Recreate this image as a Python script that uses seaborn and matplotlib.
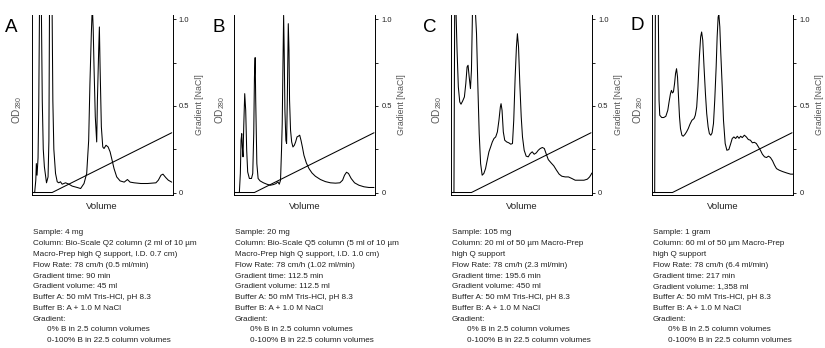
import matplotlib
matplotlib.use("Agg")
import matplotlib.pyplot as plt
import seaborn as sns
import pandas as pd

# ---------------- data (normalized volume 0..1, signal in right-axis units) ----------------
a_vol = [0, 0.021, 0.029, 0.033, 0.038, 0.045, 0.050, 0.055, 0.069, 0.075, 0.082, 0.090, 0.105,
         0.116, 0.122, 0.126, 0.145, 0.150, 0.157, 0.169, 0.181, 0.192, 0.204, 0.216, 0.240,
         0.264, 0.287, 0.323, 0.347, 0.371, 0.390, 0.404, 0.413, 0.423, 0.430, 0.436, 0.442,
         0.451, 0.461, 0.466, 0.475, 0.480, 0.485, 0.494, 0.504, 0.513, 0.527, 0.542, 0.556,
         0.570, 0.584, 0.603, 0.627, 0.656, 0.679, 0.698, 0.727, 0.774, 0.822, 0.881, 0.898,
         0.917, 0.931, 0.950, 0.969, 0.993]
a_od = [0, 0, 0.071, 0.167, 0.100, 0.200, 0.500, 1.03, 1.03, 0.53, 0.250, 0.148, 0.056,
        0.090, 0.300, 1.03, 1.03, 0.53, 0.250, 0.110, 0.062, 0.056, 0.062, 0.048, 0.056,
        0.048, 0.037, 0.029, 0.023, 0.052, 0.110, 0.300, 0.630, 0.920, 1.08, 0.950, 0.725,
        0.437, 0.292, 0.533, 0.821, 0.956, 0.725, 0.379, 0.263, 0.254, 0.273, 0.263, 0.235,
        0.187, 0.138, 0.090, 0.067, 0.060, 0.075, 0.060, 0.056, 0.052, 0.052, 0.056, 0.071,
        0.100, 0.106, 0.087, 0.071, 0.060]

b_vol = [0, 0.038, 0.045, 0.050, 0.055, 0.059, 0.064, 0.069, 0.076, 0.083, 0.090, 0.097, 0.109,
         0.124, 0.133, 0.140, 0.145, 0.150, 0.154, 0.162, 0.171, 0.185, 0.209, 0.233, 0.257,
         0.280, 0.299, 0.311, 0.321, 0.330, 0.337, 0.342, 0.347, 0.352, 0.356, 0.361, 0.368,
         0.373, 0.378, 0.385, 0.390, 0.394, 0.401, 0.409, 0.418, 0.428, 0.437, 0.447, 0.456,
         0.466, 0.475, 0.485, 0.496, 0.513, 0.532, 0.553, 0.577, 0.613, 0.648, 0.684, 0.720,
         0.751, 0.770, 0.784, 0.798, 0.812, 0.831, 0.855, 0.886, 0.922, 0.957, 0.993]
b_od = [0, 0, 0.110, 0.302, 0.340, 0.263, 0.206, 0.379, 0.571, 0.475, 0.244, 0.119, 0.081,
        0.081, 0.110, 0.340, 0.667, 0.779, 0.533, 0.167, 0.081, 0.067, 0.056, 0.048, 0.042,
        0.046, 0.052, 0.062, 0.048, 0.071, 0.244, 0.398, 0.725, 1.023, 0.821, 0.475, 0.302,
        0.283, 0.533, 0.975, 0.821, 0.533, 0.360, 0.292, 0.263, 0.273, 0.292, 0.321, 0.325,
        0.331, 0.302, 0.263, 0.215, 0.171, 0.138, 0.113, 0.094, 0.075, 0.063, 0.056, 0.054,
        0.056, 0.071, 0.100, 0.117, 0.110, 0.081, 0.056, 0.042, 0.033, 0.029, 0.029]

c_vol = [0, 0.021, 0.026, 0.036, 0.043, 0.052, 0.062, 0.071, 0.083, 0.095, 0.105, 0.114, 0.121,
         0.129, 0.138, 0.145, 0.152, 0.174, 0.181, 0.190, 0.200, 0.210, 0.221, 0.233, 0.245,
         0.257, 0.269, 0.281, 0.293, 0.305, 0.317, 0.329, 0.340, 0.350, 0.355, 0.362, 0.371,
         0.381, 0.395, 0.410, 0.424, 0.436, 0.445, 0.455, 0.464, 0.471, 0.479, 0.488, 0.498,
         0.507, 0.519, 0.533, 0.548, 0.562, 0.576, 0.590, 0.605, 0.619, 0.633, 0.648, 0.662,
         0.676, 0.690, 0.710, 0.729, 0.748, 0.767, 0.786, 0.810, 0.833, 0.857, 0.881, 0.912,
         0.943, 0.967, 0.983, 1.0]
c_od = [0, 0, 1.03, 1.03, 0.821, 0.610, 0.523, 0.510, 0.529, 0.552, 0.629, 0.725, 0.735,
        0.667, 0.600, 0.706, 1.03, 1.03, 0.917, 0.629, 0.340, 0.167, 0.100, 0.110, 0.138,
        0.187, 0.235, 0.263, 0.292, 0.312, 0.321, 0.350, 0.417, 0.494, 0.513, 0.475, 0.350,
        0.302, 0.292, 0.287, 0.279, 0.283, 0.417, 0.667, 0.840, 0.917, 0.840, 0.629, 0.437,
        0.321, 0.244, 0.210, 0.206, 0.225, 0.235, 0.221, 0.229, 0.244, 0.254, 0.260, 0.254,
        0.221, 0.190, 0.171, 0.154, 0.129, 0.106, 0.094, 0.090, 0.090, 0.081, 0.071, 0.071,
        0.071, 0.077, 0.090, 0.113]

d_vol = [0, 0.019, 0.024, 0.045, 0.050, 0.055, 0.069, 0.083, 0.098, 0.112, 0.121, 0.131, 0.138,
         0.145, 0.152, 0.160, 0.167, 0.174, 0.181, 0.188, 0.195, 0.202, 0.212, 0.221, 0.233,
         0.245, 0.257, 0.269, 0.283, 0.298, 0.307, 0.317, 0.326, 0.336, 0.345, 0.352, 0.360,
         0.369, 0.379, 0.388, 0.398, 0.407, 0.417, 0.426, 0.436, 0.445, 0.455, 0.462, 0.469,
         0.474, 0.481, 0.488, 0.498, 0.507, 0.519, 0.531, 0.545, 0.557, 0.569, 0.581, 0.593,
         0.605, 0.617, 0.629, 0.640, 0.655, 0.669, 0.683, 0.698, 0.712, 0.726, 0.740, 0.755,
         0.769, 0.783, 0.798, 0.812, 0.826, 0.840, 0.855, 0.869, 0.883, 0.902, 0.926, 0.955,
         0.983, 1.0]
d_od = [0, 0, 1.03, 1.03, 0.533, 0.446, 0.433, 0.433, 0.440, 0.475, 0.523, 0.571, 0.590,
        0.575, 0.581, 0.629, 0.687, 0.715, 0.667, 0.552, 0.437, 0.369, 0.331, 0.325, 0.335,
        0.350, 0.369, 0.394, 0.417, 0.427, 0.446, 0.494, 0.610, 0.783, 0.898, 0.927, 0.879,
        0.725, 0.571, 0.456, 0.379, 0.340, 0.331, 0.344, 0.398, 0.533, 0.725, 0.898, 1.013,
        1.03, 0.956, 0.802, 0.610, 0.417, 0.283, 0.244, 0.248, 0.279, 0.312, 0.321, 0.312,
        0.325, 0.313, 0.325, 0.317, 0.331, 0.321, 0.306, 0.302, 0.287, 0.290, 0.283, 0.263,
        0.244, 0.221, 0.206, 0.202, 0.210, 0.202, 0.183, 0.158, 0.138, 0.129, 0.121, 0.113,
        0.106, 0.106]

grad_vol = [0, 0.145, 0.993]
grad_nacl = [0, 0, 0.345]

panel_letters = ["A", "B", "C", "D"]
right_ticks = [0, 0.25, 0.5, 0.75, 1.0]
right_tick_labels = ["0", "", "0.5", "", "1.0"]

notes_a = ["Sample: 4 mg",
           "Column: Bio-Scale Q2 column (2 ml of 10 µm",
           "Macro-Prep high Q support, I.D. 0.7 cm)",
           "Flow Rate: 78 cm/h (0.5 ml/min)",
           "Gradient time: 90 min",
           "Gradient volume: 45 ml",
           "Buffer A: 50 mM Tris-HCl, pH 8.3",
           "Buffer B: A + 1.0 M NaCl",
           "Gradient:",
           "0% B in 2.5 column volumes",
           "0-100% B in 22.5 column volumes"]
notes_b = ["Sample: 20 mg",
           "Column: Bio-Scale Q5 column (5 ml of 10 µm",
           "Macro-Prep high Q support, I.D. 1.0 cm)",
           "Flow Rate: 78 cm/h (1.02 ml/min)",
           "Gradient time: 112.5 min",
           "Gradient volume: 112.5 ml",
           "Buffer A: 50 mM Tris-HCl, pH 8.3",
           "Buffer B: A + 1.0 M NaCl",
           "Gradient:",
           "0% B in 2.5 column volumes",
           "0-100% B in 22.5 column volumes"]
notes_c = ["Sample: 105 mg",
           "Column: 20 ml of 50 µm Macro-Prep",
           "high Q support",
           "Flow Rate: 78 cm/h (2.3 ml/min)",
           "Gradient time: 195.6 min",
           "Gradient volume: 450 ml",
           "Buffer A: 50 mM Tris-HCl, pH 8.3",
           "Buffer B: A + 1.0 M NaCl",
           "Gradient:",
           "0% B in 2.5 column volumes",
           "0-100% B in 22.5 column volumes"]
notes_d = ["Sample: 1 gram",
           "Column: 60 ml of 50 µm Macro-Prep",
           "high Q support",
           "Flow Rate: 78 cm/h (6.4 ml/min)",
           "Gradient time: 217 min",
           "Gradient volume: 1,358 ml",
           "Buffer A: 50 mM Tris-HCl, pH 8.3",
           "Buffer B: A + 1.0 M NaCl",
           "Gradient:",
           "0% B in 2.5 column volumes",
           "0-100% B in 22.5 column volumes"]

# ---------------- style ----------------
sns.set_theme(style="white")
plt.rcParams["font.family"] = ["Liberation Sans", "DejaVu Sans"]
plt.rcParams["mathtext.default"] = "regular"

W, H = 825, 348
fig = plt.figure(figsize=(W / 100, H / 100), dpi=100)

ax_left_px = [31.7, 234.0, 451.0, 652.0]
ax_w_px = 141.0
ax_top_px, ax_bot_px = 14.5, 194.5
letter_px = [(5, 28), (212, 27), (423, 27), (630, 26)]

series = [(a_vol, a_od), (b_vol, b_od), (c_vol, c_od), (d_vol, d_od)]
notes = [notes_a, notes_b, notes_c, notes_d]

txt_col = "#222222"
lab_col = "#555555"

for i, ((vol, od), note) in enumerate(zip(series, notes)):
    lp = ax_left_px[i]
    ax = fig.add_axes([lp / W, 1 - ax_bot_px / H, ax_w_px / W, (ax_bot_px - ax_top_px) / H])
    df = pd.DataFrame({"Volume": vol, "OD": od})
    gdf = pd.DataFrame({"Volume": grad_vol, "NaCl": grad_nacl})
    sns.lineplot(data=df, x="Volume", y="OD", ax=ax, color="black", lw=0.75,
                 estimator=None, sort=False)
    sns.lineplot(data=gdf, x="Volume", y="NaCl", ax=ax, color="black", lw=0.75,
                 estimator=None, sort=False)
    ax.set_xlim(0, 1)
    ax.set_ylim(-0.0115, 1.028)
    ax.set_xticks([])
    ax.yaxis.tick_right()
    ax.set_yticks(right_ticks)
    ax.set_yticklabels(right_tick_labels)
    ax.tick_params(axis="y", which="both", right=True, left=False, length=2.3, width=0.6,
                   pad=2.2, labelsize=5.5, colors="black", labelcolor=txt_col, direction="out")
    for side in ["left", "right", "bottom"]:
        ax.spines[side].set_visible(True)
        ax.spines[side].set_color("black")
        ax.spines[side].set_linewidth(0.7)
    ax.spines["top"].set_visible(False)

    ax.set_xlabel("Volume", fontsize=6.8, color=txt_col)
    ax.xaxis.set_label_coords(0.5, -0.068)
    ax.xaxis.label.set_va("center")
    ax.set_ylabel("")
    ax.text(-0.1, 0.47, "OD$_{280}$", transform=ax.transAxes, rotation=90,
            fontsize=7.2, color=lab_col, ha="center", va="center")
    ax.text(1.187, 0.5, "Gradient [NaCl]", transform=ax.transAxes, rotation=90,
            fontsize=6.3, color=lab_col, ha="center", va="center")

    lx, ly = letter_px[i]
    fig.text(lx / W, 1 - ly / H, panel_letters[i], fontsize=13.5, color="black",
             ha="left", va="center")

    for j, line in enumerate(note):
        indent = 14.6 if j >= 9 else 0
        fig.text((lp + 1 + indent) / W, 1 - (233.0 + j * 10.77) / H, line,
                 fontsize=5.9, color=txt_col, ha="left", va="center")

fig.savefig("out.png", dpi=100)
